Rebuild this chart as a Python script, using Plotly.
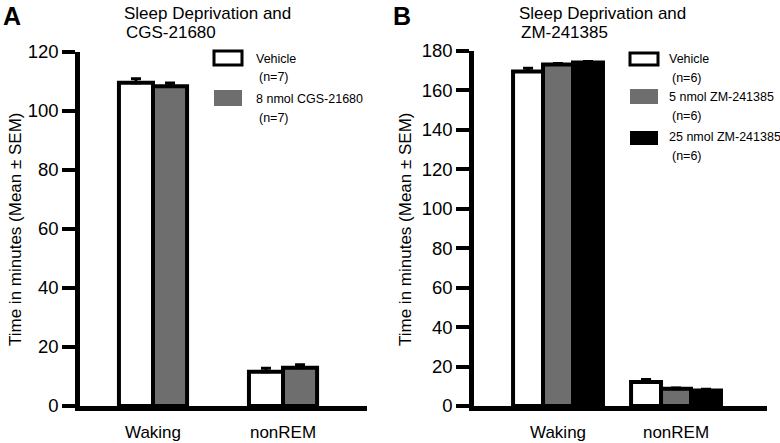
import plotly.graph_objects as go

# ---------------- data ----------------
categories = ["Waking", "nonREM"]

a_names = ["Vehicle", "8 nmol CGS-21680"]
a_n = ["(n=7)", "(n=7)"]
a_means = [[109.6, 11.6], [108.4, 13.0]]
a_sems = [[1.3, 1.2], [1.1, 1.0]]

b_names = ["Vehicle", "5 nmol ZM-241385", "25 nmol ZM-241385"]
b_n = ["(n=6)", "(n=6)", "(n=6)"]
b_means = [[169.6, 12.2], [173.2, 8.7], [174.2, 7.9]]
b_sems = [[1.6, 1.2], [0.5, 0.4], [0.5, 0.6]]

a_ticks = [0, 20, 40, 60, 80, 100, 120]
b_ticks = [0, 20, 40, 60, 80, 100, 120, 140, 160, 180]

a_title = ["Sleep Deprivation and", "CGS-21680"]
b_title = ["Sleep Deprivation and", "ZM-241385"]
y_title = "Time in minutes (Mean ± SEM)"

fills_a = ["white", "#6e6e6e"]
fills_b = ["white", "#6e6e6e", "black"]

W, H = 780, 443
NARROW = "Liberation Sans Narrow, Arial Narrow, Liberation Sans, Arial, sans-serif"
SANS = "Liberation Sans, Arial, sans-serif"


def px(x):
    return x / W


def py(y):
    return 1 - y / H


fig = go.Figure()

# panel A bars
a_width = 0.262
a_offsets = [-0.262, 0.0]
for i, name in enumerate(a_names):
    fig.add_trace(go.Bar(
        x=categories, y=a_means[i], name=name, xaxis="x", yaxis="y",
        width=a_width, offset=a_offsets[i],
        marker=dict(color=fills_a[i], line=dict(color="black", width=4)),
        error_y=dict(type="data", array=a_sems[i], arrayminus=[0, 0], symmetric=False,
                     color="black", thickness=3, width=5),
        showlegend=False,
    ))

# panel B bars
b_width = 0.254
b_offsets = [-0.381, -0.127, 0.127]
for i, name in enumerate(b_names):
    fig.add_trace(go.Bar(
        x=categories, y=b_means[i], name=name, xaxis="x2", yaxis="y2",
        width=b_width, offset=b_offsets[i],
        marker=dict(color=fills_b[i], line=dict(color="black", width=4)),
        error_y=dict(type="data", array=b_sems[i], arrayminus=[0, 0], symmetric=False,
                     color="black", thickness=3, width=5),
        showlegend=False,
    ))

xaxis_common = dict(
    type="category", showline=True, linecolor="black", linewidth=4.5,
    ticks="", showgrid=False, zeroline=False, fixedrange=True, automargin=False,
    tickfont=dict(family=SANS, size=17, color="black"), ticklabelstandoff=7,
)
yaxis_common = dict(
    showline=True, linecolor="black", linewidth=4.5, ticks="outside",
    ticklen=13, tickwidth=4, tickcolor="black", showgrid=False, zeroline=False,
    automargin=False,
    tickfont=dict(family=NARROW, size=18.5, color="black"), fixedrange=True,
)

fig.update_layout(
    width=W, height=H, margin=dict(l=0, r=0, t=0, b=0, autoexpand=False),
    paper_bgcolor="white", plot_bgcolor="white", barmode="overlay",
    xaxis=dict(domain=[px(80), px(367)], range=[-0.5615, 1.646], anchor="y", **xaxis_common),
    yaxis=dict(domain=[py(406), py(52)], range=[0, 120], tickvals=a_ticks, anchor="x", **yaxis_common),
    xaxis2=dict(domain=[px(474), px(767)], range=[-0.712, 1.771], anchor="y2", **xaxis_common),
    yaxis2=dict(domain=[py(406), py(51)], range=[0, 180], tickvals=b_ticks, anchor="x2", **yaxis_common),
)

ann = []
shapes = []

# panel letters
ann.append(dict(text="<b>A</b>", x=px(1), y=py(16), xref="paper", yref="paper",
                xanchor="left", yanchor="middle", showarrow=False,
                font=dict(family=SANS, size=25, color="black")))
ann.append(dict(text="<b>B</b>", x=px(391), y=py(16), xref="paper", yref="paper",
                xanchor="left", yanchor="middle", showarrow=False,
                font=dict(family=SANS, size=25, color="black")))

# titles (two lines each)
for lines, x0 in [(a_title, 122), (b_title, 517)]:
    for k, (line, yc) in enumerate(zip(lines, [13, 32])):
        ann.append(dict(text=line, x=px(x0 + 2 * k), y=py(yc), xref="paper", yref="paper",
                        xanchor="left", yanchor="middle", align="left", showarrow=False,
                        font=dict(family=SANS, size=17, color="black")))

# y titles
for x0 in [15, 405]:
    ann.append(dict(text=y_title, x=px(x0), y=py(229), xref="paper", yref="paper",
                    xanchor="center", yanchor="middle", textangle=-90, showarrow=False,
                    font=dict(family=SANS, size=17, color="black")))


# legends (manual)
def legend(names, ns, fills, box_x, text_x, box_ys, text_ys, n_ys):
    for i in range(len(names)):
        y0, y1 = box_ys[i]
        white = fills[i] == "white"
        shapes.append(dict(type="rect", xref="paper", yref="paper",
                           x0=px(box_x[0]), x1=px(box_x[1]), y0=py(y1), y1=py(y0),
                           fillcolor=fills[i],
                           line=dict(color="black" if white else fills[i], width=3 if white else 0)))
        ann.append(dict(text=names[i], x=px(text_x), y=py(text_ys[i]), xref="paper", yref="paper",
                        xanchor="left", yanchor="middle", showarrow=False,
                        font=dict(family=NARROW, size=12.5, color="black")))
        ann.append(dict(text=ns[i], x=px(text_x + 3), y=py(n_ys[i]), xref="paper", yref="paper",
                        xanchor="left", yanchor="middle", showarrow=False,
                        font=dict(family=NARROW, size=12.5, color="black")))


legend(a_names, a_n, fills_a, (214, 242), 254, [(51, 65), (90, 106)], [59, 99], [77, 118])
legend(b_names, b_n, fills_b, (630, 658), 667, [(53, 65), (89, 104), (131, 145)], [59, 97, 137], [78, 116, 156])

fig.update_layout(annotations=ann, shapes=shapes)

fig.write_html("out.html", config={"displayModeBar": False})

# remove the default body margin so the figure sits at the top-left corner
with open("out.html", "r", encoding="utf-8") as f:
    html = f.read()
html = html.replace("<head>", "<head><style>html,body{margin:0;padding:0;overflow:hidden;}</style>", 1)
with open("out.html", "w", encoding="utf-8") as f:
    f.write(html)
